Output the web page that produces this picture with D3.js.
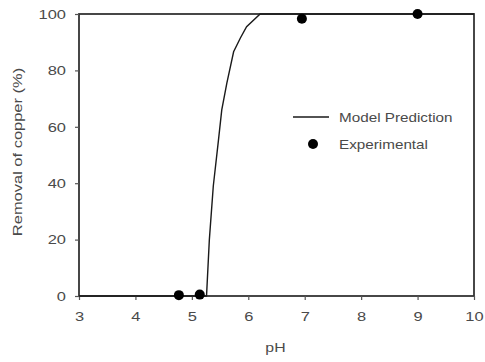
<!DOCTYPE html>
<html>
<head>
<meta charset="utf-8">
<script src="https://cdn.jsdelivr.net/npm/d3@7"></script>
<style>
  html, body { margin: 0; padding: 0; background: #fff; }
  svg { display: block; font-family: "Liberation Sans", Arial, sans-serif; }
</style>
</head>
<body>
<svg id="chart" width="485" height="362"></svg>
<script>
// Model prediction curve (pH, removal %)
const modelPH      = [3, 5.26, 5.31, 5.38, 5.47, 5.53, 5.62, 5.74, 5.86, 5.97, 6.21, 10];
const modelRemoval = [0, 0, 20, 39, 55, 66, 75.5, 86.6, 91.5, 95.5, 100, 100];

// Experimental measurements
const expPH      = [4.77, 5.14, 6.95, 9.0];
const expRemoval = [0.3, 0.5, 98.3, 100];

const xTicks = [3, 4, 5, 6, 7, 8, 9, 10];
const yTicks = [0, 20, 40, 60, 80, 100];

const svg = d3.select("#chart");
const margin = { left: 79, right: 11, top: 14, bottom: 66 };
const W = 485, H = 362;

const x = d3.scaleLinear().domain([3, 10]).range([margin.left, W - margin.right]);
const y = d3.scaleLinear().domain([0, 100]).range([H - margin.bottom, margin.top]);

const ink = "#1a1a1a";
const textInk = "#4a4a4a";
const tickFont = "13.5px";
const titleFont = "13.5px";
const legendFont = "12.5px";
const stretch = 1.22;   // glyphs are drawn slightly wide

// Frame
svg.append("rect")
  .attr("x", x(3)).attr("y", y(100))
  .attr("width", x(10) - x(3)).attr("height", y(0) - y(100))
  .attr("fill", "none").attr("stroke", "#333").attr("stroke-width", 1.8);

// Axes
const xAxis = svg.append("g")
  .attr("transform", `translate(0,${y(0)})`)
  .call(d3.axisBottom(x).tickValues(xTicks).tickSize(4).tickPadding(11).tickFormat(d3.format("d")));
const yAxis = svg.append("g")
  .attr("transform", `translate(${x(3)},0)`)
  .call(d3.axisLeft(y).tickValues(yTicks).tickSize(4).tickPadding(9).tickFormat(d3.format("d")));

[xAxis, yAxis].forEach(g => {
  g.select(".domain").remove();
  g.selectAll(".tick line").attr("stroke", "#555").attr("stroke-width", 1.2);
  g.selectAll(".tick text")
    .attr("fill", textInk)
    .style("font-size", tickFont)
    .style("font-family", "'Liberation Sans', Arial, sans-serif");
});
// widen tick labels around their anchor
xAxis.selectAll(".tick text").attr("transform", `scale(${stretch},1)`);
yAxis.selectAll(".tick text").each(function () {
  const t = d3.select(this);
  const x0 = +t.attr("x");
  t.attr("x", x0 / stretch).attr("transform", `scale(${stretch},1)`);
});

// helper for stretched free text
function label(parent, px, py, str, size, anchor) {
  return parent.append("text")
    .attr("transform", `translate(${px},${py}) scale(${stretch},1)`)
    .attr("text-anchor", anchor || "start")
    .attr("fill", textInk)
    .style("font-size", size)
    .text(str);
}

// Axis titles
label(svg, x(6.5) - 1, 352, "pH", "13px", "middle");
svg.append("text")
  .attr("transform", `translate(22,${(y(0) + y(100)) / 2 - 3}) rotate(-90) scale(${stretch},1)`)
  .attr("text-anchor", "middle")
  .attr("fill", textInk).style("font-size", titleFont)
  .text("Removal of copper (%)");

// Model curve
const modelData = modelPH.map((p, i) => ({ p, r: modelRemoval[i] }));
const line = d3.line().x(d => x(d.p)).y(d => y(d.r));
svg.append("path")
  .datum(modelData)
  .attr("d", line)
  .attr("fill", "none")
  .attr("stroke", ink)
  .attr("stroke-width", 1.4);

// Experimental points
const expData = expPH.map((p, i) => ({ p, r: expRemoval[i] }));
svg.selectAll("circle.exp")
  .data(expData)
  .enter().append("circle")
  .attr("class", "exp")
  .attr("cx", d => x(d.p))
  .attr("cy", d => y(d.r))
  .attr("r", 5)
  .attr("fill", "#000");

// Legend
const legend = svg.append("g").attr("transform", "translate(293,117)");
legend.append("line")
  .attr("x1", 0).attr("x2", 36).attr("y1", 0).attr("y2", 0)
  .attr("stroke", ink).attr("stroke-width", 1.4);
label(legend, 46, 5, "Model Prediction", legendFont);
legend.append("circle")
  .attr("cx", 20).attr("cy", 27).attr("r", 5).attr("fill", "#000");
label(legend, 46, 32, "Experimental", legendFont);
</script>
</body>
</html>
